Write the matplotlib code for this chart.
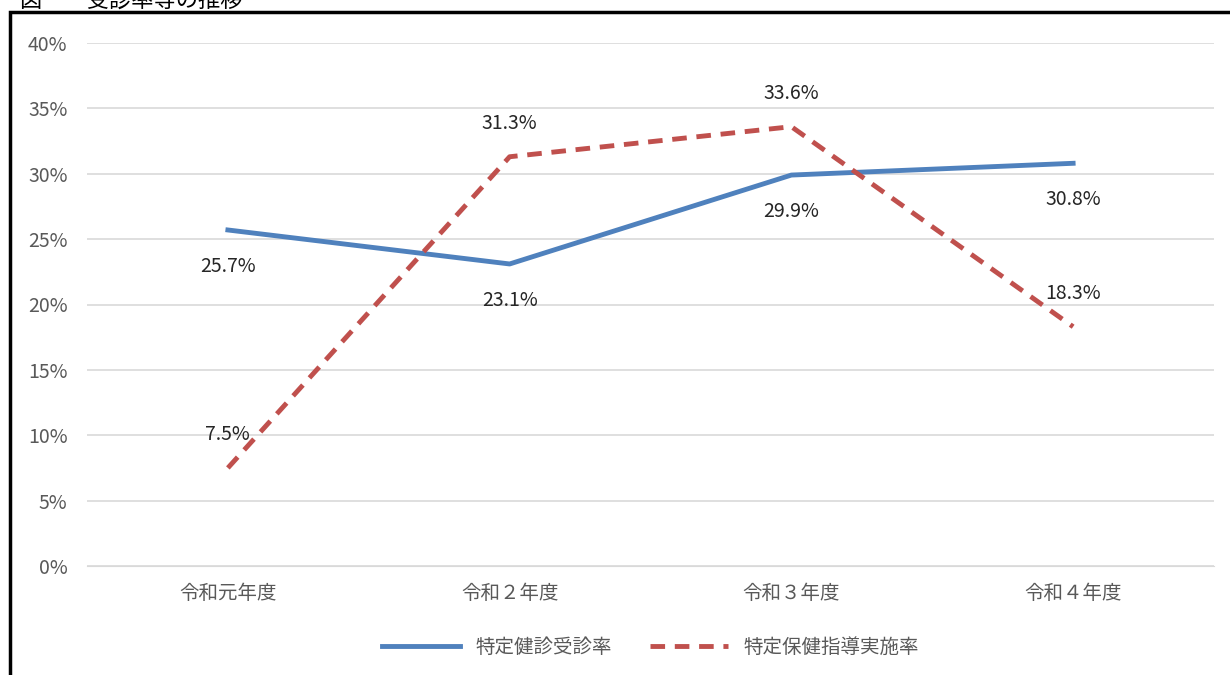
import matplotlib.pyplot as plt
from matplotlib.patches import Rectangle

plt.rcParams['font.family'] = ['Noto Sans CJK JP', 'DejaVu Sans']

categories = ['令和元年度', '令和２年度', '令和３年度', '令和４年度']
kenshin = [25.7, 23.1, 29.9, 30.8]
shido = [7.5, 31.3, 33.6, 18.3]

W, H = 1230, 675
fig = plt.figure(figsize=(W / 100, H / 100), dpi=100)
ax = fig.add_axes([87 / W, 1 - 566 / H, (1214 - 87) / W, (566 - 43) / H])

x = list(range(len(categories)))
ax.plot(x, kenshin, color='#4f81bd', lw=3.5, label='特定健診受診率')
ax.plot(x, shido, color='#c0504d', lw=3.5, ls=(0, (3, 2)), label='特定保健指導実施率')

for i, v in enumerate(kenshin):
    ax.annotate(f'{v}%', (i, v), xytext=(0, -26), textcoords='offset points',
                ha='center', fontsize=14, color='#262626', va='center')
for i, v in enumerate(shido):
    ax.annotate(f'{v}%', (i, v), xytext=(0, 24), textcoords='offset points',
                ha='center', fontsize=14, color='#262626', va='center')

ax.set_xlim(-0.5, 3.5)
ax.set_ylim(0, 40)
ax.set_yticks(range(0, 41, 5))
ax.set_yticklabels([f'{t}%' for t in range(0, 41, 5)])
ax.set_xticks(x)
ax.set_xticklabels(categories)
ax.tick_params(length=0, labelsize=14, labelcolor='#595959', pad=14)
ax.tick_params(axis='x', pad=12)
ax.grid(axis='y', color='#d9d9d9', lw=1.2)
ax.set_axisbelow(True)
for s in ['top', 'right', 'left']:
    ax.spines[s].set_visible(False)
ax.spines['bottom'].set_color('#d9d9d9')

ax.legend(loc='center', bbox_to_anchor=(0.5, -0.155), ncol=2, frameon=False,
          fontsize=14, handlelength=4, columnspacing=2, labelcolor='#595959')

fig.patches.append(Rectangle((10 / W, -0.1), 1.2, 1 - 12 / H + 0.1,
                             transform=fig.transFigure, fill=False, lw=2.5,
                             edgecolor='black'))
fig.text(20 / W, 1 - 1 / H, '図　　受診率等の推移', fontsize=16, va='center')

fig.savefig('out.png', dpi=100)
